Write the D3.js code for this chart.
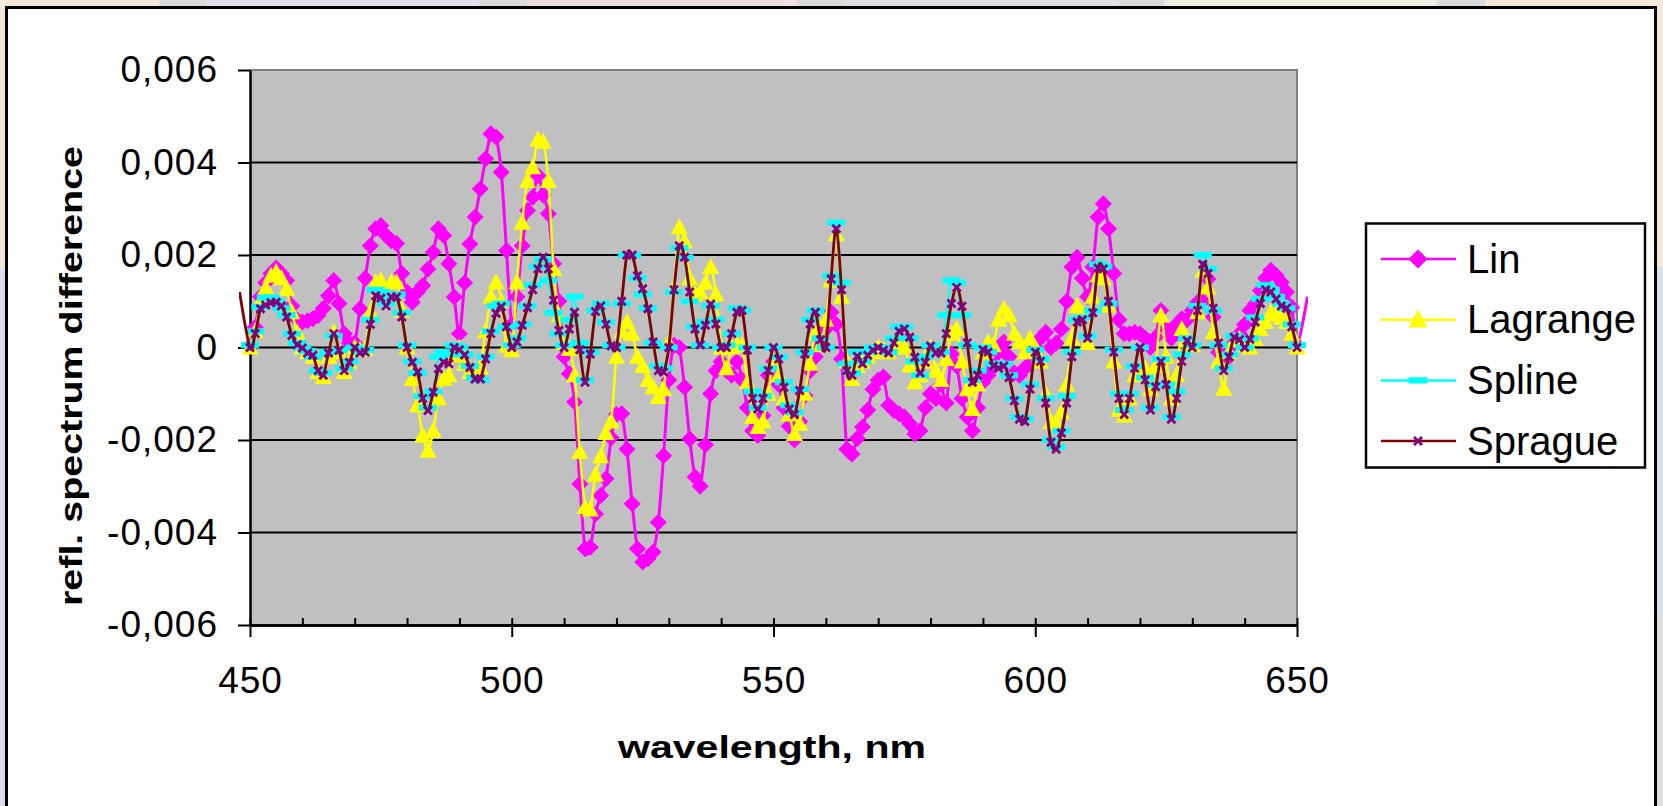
<!DOCTYPE html>
<html>
<head>
<meta charset="utf-8">
<script src="https://cdn.jsdelivr.net/npm/d3@7"></script>
<style>
  html, body { margin: 0; padding: 0; background: #f3e7da; }
  svg { display: block; font-family: "Liberation Sans", Arial, sans-serif; }
</style>
</head>
<body>
<svg id="chart" width="1663" height="806"></svg>
<script>
"use strict";

// x categories, one reading per nanometre
var wavelengths = d3.range(450, 651);
var xTicks = [450, 500, 550, 600, 650];
var xMinorTicks = d3.range(450, 651, 10);
// y values are kept in units of 0.001
var yTicks = [-6, -4, -2, 0, 2, 4, 6];
var gridTicks = [-4, -2, 0, 2, 4];
var seriesNames = ['Lin', 'Lagrange', 'Spline', 'Sprague'];

var lin = [
  0.04, 0.44, 1.10, 1.40, 1.60, 1.72, 1.60, 1.45, 0.90, 0.60,
  0.55, 0.58, 0.62, 0.69, 0.85, 1.12, 1.45, 0.95, 0.30, 0.10,
  0.10, 0.84, 1.50, 2.20, 2.57, 2.64, 2.42, 2.31, 2.25, 1.60,
  1.20, 0.98, 1.20, 1.34, 1.70, 2.06, 2.57, 2.42, 1.81, 1.09,
  0.30, 1.40, 2.24, 2.82, 3.43, 4.08, 4.62, 4.55, 3.79, 2.10,
  0.50, 1.10, 2.20, 2.96, 3.25, 3.72, 3.30, 2.89, 1.81, 1.00,
  -0.20, -0.57, -1.18, -2.95, -4.35, -4.32, -3.60, -3.20, -2.84, -1.95,
  -1.45, -1.43, -2.20, -3.38, -4.35, -4.64, -4.57, -4.42, -3.78, -2.34,
  -0.70, 0.05, 0.00, -0.86, -1.98, -2.80, -3.00, -2.10, -1.00, -0.50,
  -0.30, -0.50, -0.60, -0.30, -0.70, -1.30, -1.80, -1.90, -1.47, -0.60,
  -0.30, -0.80, -1.30, -1.70, -2.00, -1.60, -1.04, -0.50, -0.20, 0.10,
  0.40, 0.76, 0.50, -0.25, -2.20, -2.30, -1.97, -1.72, -1.35, -0.90,
  -0.70, -0.64, -1.25, -1.36, -1.43, -1.50, -1.65, -1.87, -1.80, -1.30,
  -1.00, -1.10, -0.80, -1.20, -0.14, -0.40, -1.10, -1.50, -1.80, -1.30,
  -0.75, -0.60, -0.40, -0.10, 0.12, -0.20, -0.55, -0.60, -0.45, -0.35,
  -0.10, 0.20, 0.33, 0.00, 0.10, 0.40, 1.00, 1.74, 1.95, 1.50,
  1.10, 1.74, 2.82, 3.11, 2.57, 1.60, 0.60, 0.30, 0.30, 0.33,
  0.30, 0.20, 0.00, 0.22, 0.80, 0.40, 0.20, 0.50, 0.62, 0.60,
  0.80, 0.98, 1.00, 1.48, 0.66, -0.10, -0.17, -0.20, 0.10, 0.30,
  0.50, 0.80, 0.94, 1.23, 1.50, 1.67, 1.56, 1.41, 1.20, 0.87,
  0.05
];

var lagrange = [
  0.00, 0.35, 1.00, 1.30, 1.55, 1.63, 1.50, 1.27, 0.76, 0.33,
  0.00, -0.10, -0.20, -0.53, -0.64, -0.20, 0.33, -0.10, -0.53, -0.32,
  0.00, -0.05, -0.03, 0.76, 1.41, 1.45, 1.20, 1.41, 1.41, 0.80,
  0.00, -0.68, -1.25, -1.90, -2.23, -1.80, -1.10, -0.68, -0.60, -0.17,
  0.00, -0.35, -0.53, -0.53, -0.43, 0.35, 1.10, 1.41, 1.00, 0.04,
  -0.06, 1.41, 2.70, 3.60, 3.90, 4.50, 4.45, 3.60, 1.70, 0.70,
  0.10, -0.03, -0.60, -2.26, -3.45, -3.50, -2.75, -2.35, -1.85, -1.60,
  -0.20, 0.35, 0.55, 0.30, -0.20, -0.40, -0.70, -0.86, -1.07, -0.90,
  0.10, 1.30, 2.60, 2.30, 1.50, 1.15, 1.20, 1.40, 1.74, 1.15,
  0.00, -0.45, 0.00, 0.05, 0.05, -0.75, -1.50, -1.72, -1.60, -1.00,
  -0.30, -0.60, -1.10, -1.45, -1.87, -1.65, -1.00, -0.35, 0.30, 0.05,
  0.60, 1.45, 2.45, 1.10, -0.30, -0.68, -0.40, -0.30, -0.20, -0.10,
  0.00, -0.05, -0.10, 0.00, 0.05, 0.00, -0.39, -0.75, -0.60, -0.30,
  0.00, -0.50, -0.70, -0.25, 0.30, 0.40, -0.30, -0.90, -1.33, -0.80,
  -0.10, 0.12, 0.05, 0.60, 0.84, 0.70, 0.30, 0.12, -0.10, 0.20,
  0.00, -0.30, -1.00, -1.61, -1.65, -1.40, -0.80, 0.20, 0.90, 0.75,
  0.10, 1.10, 1.56, 1.50, 0.91, -0.30, -1.35, -1.47, -1.10, -0.60,
  -0.50, -0.46, -0.90, -0.40, 0.69, -0.20, -1.11, -0.60, 0.40, 0.15,
  0.05, 0.76, 1.66, 1.30, 0.33, -0.30, -0.89, -0.10, 0.15, 0.19,
  0.05, 0.00, 0.19, 0.40, 0.55, 0.76, 0.72, 0.65, 0.55, 0.30,
  0.00
];

var spline = [
  0.05, 0.35, 0.88, 1.08, 1.08, 1.00, 0.85, 0.70, 0.30, 0.10,
  0.00, -0.08, -0.20, -0.50, -0.55, -0.10, 0.25, -0.05, -0.45, -0.30,
  0.00, -0.10, -0.05, 0.60, 1.25, 1.20, 0.95, 1.10, 1.15, 0.75,
  0.05, -0.30, -0.55, -1.05, -1.30, -0.95, -0.20, -0.10, -0.15, 0.05,
  0.00, -0.15, -0.40, -0.65, -0.70, -0.20, 0.35, 0.90, 0.95, 0.45,
  0.05, 0.20, 0.50, 0.90, 1.35, 1.75, 1.90, 1.45, 0.75, 0.30,
  0.05, 0.60, 1.10, 0.10, -0.70, -0.10, 0.80, 0.95, 0.55, 0.05,
  0.00, 0.95, 2.00, 2.00, 1.50, 1.15, 0.85, 0.10, -0.40, -0.45,
  0.00, 1.20, 2.15, 1.95, 1.00, 0.45, 0.05, 0.55, 0.90, 0.60,
  0.00, 0.05, 0.30, 0.85, 0.80, 0.00, -0.95, -1.30, -1.05, -0.45,
  0.00, -0.20, -0.75, -1.25, -1.40, -0.90, -0.10, 0.60, 0.80, 0.20,
  0.00, 1.55, 2.70, 1.40, -0.35, -0.55, -0.10, -0.30, -0.10, 0.00,
  0.00, 0.00, -0.10, 0.20, 0.45, 0.45, 0.20, -0.30, -0.60, -0.20,
  0.05, -0.10, -0.10, 0.70, 1.45, 1.40, 0.70, 0.05, -0.70, -0.50,
  0.00, -0.10, -0.35, -0.40, -0.35, -0.60, -1.10, -1.50, -1.55, -0.80,
  -0.05, -0.25, -1.10, -2.00, -2.15, -1.80, -1.05, -0.10, 0.60, 0.65,
  0.25, 0.80, 1.80, 1.75, 0.95, -0.05, -1.00, -1.35, -1.00, -0.40,
  0.00, -0.65, -1.30, -0.80, -0.25, -0.80, -1.50, -0.95, -0.15, 0.20,
  0.05, 0.90, 2.00, 1.70, 0.80, 0.05, -0.45, -0.15, 0.25, 0.20,
  0.00, 0.20, 0.65, 1.05, 1.35, 1.25, 1.10, 0.95, 0.85, 0.50,
  0.05
];

var sprague = [
  0.00, 0.30, 0.84, 0.92, 0.97, 0.98, 0.90, 0.66, 0.26, 0.06,
  -0.01, -0.12, -0.17, -0.50, -0.60, -0.12, 0.30, -0.06, -0.50, -0.32,
  0.00, -0.12, -0.10, 0.50, 1.12, 1.07, 0.90, 1.09, 1.09, 0.66,
  0.00, -0.32, -0.53, -1.10, -1.36, -0.97, -0.46, -0.32, -0.35, 0.00,
  -0.05, -0.16, -0.43, -0.68, -0.68, -0.25, 0.30, 0.74, 0.88, 0.45,
  0.00, 0.12, 0.48, 0.86, 1.25, 1.70, 1.95, 1.70, 1.02, 0.37,
  0.00, 0.40, 0.76, -0.05, -0.75, -0.14, 0.78, 0.90, 0.50, 0.04,
  0.00, 1.00, 2.00, 2.00, 1.55, 1.27, 0.84, 0.12, -0.50, -0.53,
  0.00, 1.25, 2.20, 1.95, 1.20, 0.40, 0.06, 0.48, 0.94, 0.51,
  0.00, 0.00, 0.30, 0.76, 0.80, -0.06, -1.10, -1.33, -1.10, -0.50,
  0.00, -0.25, -0.86, -1.33, -1.45, -0.93, -0.14, 0.51, 0.76, 0.17,
  0.00, 1.48, 2.57, 1.25, -0.50, -0.60, -0.19, -0.35, -0.17, -0.06,
  0.00, -0.06, -0.12, 0.10, 0.35, 0.40, 0.22, -0.21, -0.55, -0.32,
  0.03, -0.12, -0.12, 0.30, 0.95, 1.30, 0.89, 0.10, -0.75, -0.60,
  -0.05, -0.10, -0.40, -0.45, -0.40, -0.65, -1.15, -1.55, -1.60, -0.90,
  -0.10, -0.30, -1.20, -2.05, -2.20, -1.85, -1.20, -0.20, 0.55, 0.60,
  0.20, 0.75, 1.72, 1.70, 1.00, -0.10, -1.10, -1.45, -1.10, -0.45,
  0.00, -0.70, -1.35, -0.85, -0.30, -0.80, -1.55, -1.10, -0.30, 0.15,
  0.00, 0.80, 1.80, 1.60, 0.85, 0.10, -0.50, -0.20, 0.22, 0.17,
  0.00, 0.18, 0.55, 0.95, 1.25, 1.20, 1.05, 0.90, 0.85, 0.45,
  0.00
];

// the smoothed lines poke a few pixels past the plot edges
var spragueLeadIn = { w: 448, v: 1.2 };
var linRunOut = { w: 652, v: 1.1 };

var svg = d3.select('#chart');
var plot = { left: 250, right: 1297, top: 70, bottom: 625 };

// slide background peeking out round the chart frame
var topBands = [
  [0, 159, '#f3e7db'], [159, 207, '#dcdcdc'], [207, 479, '#dfe1ed'],
  [479, 527, '#dcdcdc'], [527, 797, '#efdfe1'], [797, 845, '#dcdcdc'],
  [845, 1117, '#e2dde6'], [1117, 1164, '#dcdcdc'], [1164, 1437, '#e8efdf'],
  [1437, 1485, '#dcdcdc'], [1485, 1663, '#f4e8d8']
];
svg.selectAll('rect.band').data(topBands).enter().append('rect')
  .attr('class', 'band')
  .attr('x', function(d) { return d[0]; })
  .attr('y', 0)
  .attr('width', function(d) { return d[1] - d[0]; })
  .attr('height', 8)
  .attr('fill', function(d) { return d[2]; });
svg.append('rect').attr('x', 0).attr('y', 267).attr('width', 8).attr('height', 539).attr('fill', '#dedee8');
svg.append('rect').attr('x', 1655).attr('y', 267).attr('width', 8).attr('height', 347).attr('fill', '#d3e3ea');
svg.append('rect').attr('x', 1655).attr('y', 614).attr('width', 8).attr('height', 192).attr('fill', '#dedede');

// chart frame
svg.append('rect')
  .attr('x', 6.5).attr('y', 7.5)
  .attr('width', 1649).attr('height', 830)
  .attr('fill', '#ffffff')
  .attr('stroke', '#000000')
  .attr('stroke-width', 3);

var x = d3.scaleLinear().domain([450, 650]).range([plot.left, plot.right]);
var y = d3.scaleLinear().domain([-6, 6]).range([plot.bottom, plot.top]);

// plot area
svg.append('rect')
  .attr('x', plot.left).attr('y', plot.top)
  .attr('width', plot.right - plot.left).attr('height', plot.bottom - plot.top)
  .attr('fill', '#c0c0c0');
svg.append('path')
  .attr('d', 'M' + plot.left + ',' + plot.top + 'H' + plot.right + 'V' + plot.bottom)
  .attr('fill', 'none')
  .attr('stroke', '#808080')
  .attr('stroke-width', 2);

svg.selectAll('line.grid').data(gridTicks).enter().append('line')
  .attr('class', 'grid')
  .attr('x1', plot.left).attr('x2', plot.right)
  .attr('y1', function(d) { return y(d); })
  .attr('y2', function(d) { return y(d); })
  .attr('stroke', '#000000')
  .attr('stroke-width', 2);

var formatTick = function(v) {
  if (v === 0) return '0';
  return (v < 0 ? '-' : '') + (Math.abs(v) / 1000).toFixed(3).replace('.', ',');
};

var styleAxis = function(g, size) {
  g.select('.domain').attr('stroke', '#000000').attr('stroke-width', 2.5);
  g.selectAll('.tick line').attr('stroke', '#000000').attr('stroke-width', 2);
  g.selectAll('.tick text')
    .attr('fill', '#000000')
    .style('font-size', size + 'px')
    .style('letter-spacing', '1px')
    .style('font-family', '"Liberation Sans", Arial, sans-serif');
};

var yAxis = svg.append('g')
  .attr('transform', 'translate(' + plot.left + ',0)')
  .call(d3.axisLeft(y).tickValues(yTicks).tickSize(12).tickSizeOuter(0)
    .tickPadding(20).tickFormat(formatTick));
styleAxis(yAxis, 37);

var xMinor = svg.append('g')
  .attr('transform', 'translate(0,' + plot.bottom + ')')
  .call(d3.axisBottom(x).tickValues(xMinorTicks).tickSize(-7).tickSizeOuter(0).tickFormat(''));
styleAxis(xMinor, 37);

var xAxis = svg.append('g')
  .attr('transform', 'translate(0,' + plot.bottom + ')')
  .call(d3.axisBottom(x).tickValues(xTicks).tickSize(12).tickSizeOuter(0).tickPadding(30));
styleAxis(xAxis, 37);

svg.append('text')
  .attr('transform', 'translate(82,376) rotate(-90)')
  .attr('text-anchor', 'middle')
  .attr('textLength', 460)
  .attr('lengthAdjust', 'spacingAndGlyphs')
  .style('font-size', '32px')
  .style('font-weight', 'bold')
  .text('refl. spectrum difference');

svg.append('text')
  .attr('x', 772).attr('y', 758)
  .attr('text-anchor', 'middle')
  .attr('textLength', 308)
  .attr('lengthAdjust', 'spacingAndGlyphs')
  .style('font-size', '32px')
  .style('font-weight', 'bold')
  .text('wavelength, nm');

// marker drawers: (selection, scale factor)
var markers = {
  diamond: function(g, k) {
    g.append('path')
      .attr('d', 'M0,' + (-8.5 * k) + 'L' + (8.5 * k) + ',0L0,' + (8.5 * k) + 'L' + (-8.5 * k) + ',0Z')
      .attr('fill', '#ff00ff');
  },
  triangle: function(g, k) {
    g.append('path')
      .attr('d', 'M0,' + (-9 * k) + 'L' + (8.5 * k) + ',' + (7 * k) + 'L' + (-8.5 * k) + ',' + (7 * k) + 'Z')
      .attr('fill', '#ffff00');
  },
  dash: function(g, k) {
    g.append('rect')
      .attr('x', -9 * k).attr('y', -3 * k)
      .attr('width', 18 * k).attr('height', 6 * k)
      .attr('fill', '#00ffff');
  },
  cross: function(g, k) {
    g.append('path')
      .attr('d', 'M-4,-4L4,4M-4,4L4,-4')
      .attr('stroke', '#800080')
      .attr('stroke-width', 2.8)
      .attr('fill', 'none');
  }
};

var series = [
  { name: seriesNames[0], values: lin, color: '#ff00ff', width: 3, marker: 'diamond', legendScale: 1.12 },
  { name: seriesNames[1], values: lagrange, color: '#ffff00', width: 2.5, marker: 'triangle', legendScale: 1.1 },
  { name: seriesNames[2], values: spline, color: '#00ffff', width: 2, marker: 'dash', legendScale: 1.05 },
  { name: seriesNames[3], values: sprague, color: '#800000', width: 2.8, marker: 'cross', legendScale: 1 }
];

svg.append('clipPath').attr('id', 'line-clip')
  .append('rect')
  .attr('x', 239).attr('y', 0)
  .attr('width', 1308 - 239).attr('height', 806);

var line = d3.line()
  .x(function(d) { return x(d.w); })
  .y(function(d) { return y(d.v); })
  .curve(d3.curveCardinal.tension(0));

series.forEach(function(s) {
  var points = wavelengths.map(function(w, i) { return { w: w, v: s.values[i] }; });
  var linePoints = points.slice();
  if (s.name === 'Sprague') linePoints.unshift(spragueLeadIn);
  if (s.name === 'Lin') linePoints.push(linRunOut);

  var g = svg.append('g').attr('class', 'series');
  g.append('path')
    .datum(linePoints)
    .attr('clip-path', 'url(#line-clip)')
    .attr('d', line)
    .attr('fill', 'none')
    .attr('stroke', s.color)
    .attr('stroke-width', s.width)
    .attr('stroke-linejoin', 'round');

  g.selectAll('g.mark').data(points).enter().append('g')
    .attr('class', 'mark')
    .attr('transform', function(d) { return 'translate(' + x(d.w) + ',' + y(d.v) + ')'; })
    .each(function() { markers[s.marker](d3.select(this), 1); });
});

// legend
var legend = svg.append('g');
legend.append('rect')
  .attr('x', 1366).attr('y', 223.5)
  .attr('width', 279).attr('height', 244)
  .attr('fill', '#ffffff')
  .attr('stroke', '#000000')
  .attr('stroke-width', 2.5);

var entry = legend.selectAll('g.entry').data(series).enter().append('g')
  .attr('class', 'entry')
  .attr('transform', function(d, i) { return 'translate(0,' + (259 + i * 60.7) + ')'; });
entry.append('line')
  .attr('x1', 1381).attr('x2', 1456)
  .attr('stroke', function(d) { return d.color; })
  .attr('stroke-width', 2.5);
entry.each(function(d) {
  var m = d3.select(this).append('g').attr('transform', 'translate(1418,0)');
  markers[d.marker](m, d.legendScale);
});
entry.append('text')
  .attr('x', 1467).attr('y', 13.5)
  .style('font-size', '40px')
  .text(function(d) { return d.name; });
</script>
</body>
</html>
